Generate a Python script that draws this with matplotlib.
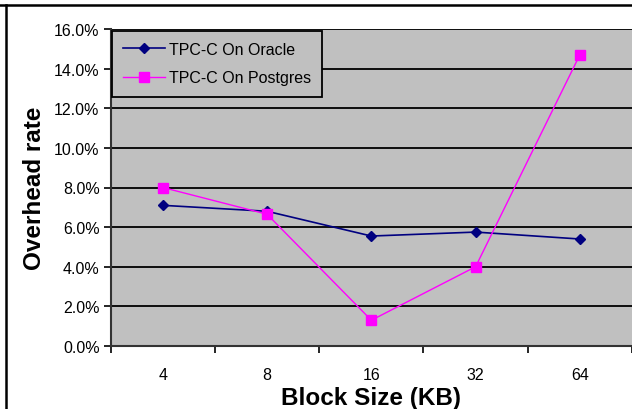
import matplotlib
matplotlib.use("Agg")
import matplotlib.pyplot as plt
from matplotlib.lines import Line2D
from matplotlib.ticker import FixedLocator, PercentFormatter

# data
block_sizes = ["4", "8", "16", "32", "64"]
oracle = [7.1, 6.8, 5.55, 5.75, 5.4]
postgres = [8.0, 6.65, 1.3, 4.0, 14.7]
y_ticks = [0, 2, 4, 6, 8, 10, 12, 14, 16]

plt.rcParams['font.family'] = ['Liberation Sans', 'DejaVu Sans']

fig = plt.figure(figsize=(6.32, 4.10), dpi=100)
ax = fig.add_axes([110.7 / 632, 63 / 410, 1 - 110.7 / 632, 317 / 410])
ax.set_facecolor('#c0c0c0')

x = list(range(len(block_sizes)))
ax.plot(x, oracle, color='#000080', marker='D', markersize=5.5, linewidth=1.2,
        label='TPC-C On Oracle', zorder=3)
ax.plot(x, postgres, color='#ff00ff', marker='s', markersize=6.5, linewidth=1.0,
        label='TPC-C On Postgres', zorder=3)

ax.set_xlim(-0.5, len(block_sizes) - 0.5)
ax.set_ylim(0, 16)
ax.set_yticks(y_ticks)
ax.yaxis.set_major_formatter(PercentFormatter(decimals=1))
ax.yaxis.grid(True, color='black', linewidth=1.3)
ax.set_axisbelow(True)

ax.set_xticks(x)
ax.set_xticklabels(block_sizes)
ax.xaxis.set_minor_locator(FixedLocator([i - 0.5 for i in range(len(block_sizes) + 1)]))
ax.tick_params(axis='x', which='major', length=0, pad=15, labelsize=11.5)
ax.tick_params(axis='x', which='minor', length=5, width=1.2, color='black')
ax.tick_params(axis='y', length=5, width=1.2, color='black', pad=3, labelsize=11.5)

for side in ['top', 'right']:
    ax.spines[side].set_visible(False)
for side in ['left', 'bottom']:
    ax.spines[side].set_color('#333333')
    ax.spines[side].set_linewidth(1.5)

ax.set_xlabel('Block Size (KB)', fontsize=17.5, fontweight='bold', labelpad=3)
ax.set_ylabel('Overhead rate', fontsize=17.5, fontweight='bold', labelpad=6)

leg = ax.legend(loc='upper left', bbox_to_anchor=(0.0, 1.0), frameon=True,
                fancybox=False, fontsize=11.5, borderaxespad=0.1,
                handlelength=2.6, borderpad=0.7, labelspacing=0.85,
                handletextpad=0.25)
leg.get_frame().set_facecolor('#c0c0c0')
leg.get_frame().set_edgecolor('black')
leg.get_frame().set_linewidth(1.3)
leg.get_frame().set_alpha(1)

# outer frame (cropped: only top and left edges show)
fig.add_artist(Line2D([0, 1], [1 - 6 / 410] * 2, color='black', linewidth=1.8,
                      transform=fig.transFigure))
fig.add_artist(Line2D([6 / 632] * 2, [0, 1 - 6 / 410], color='black', linewidth=1.8,
                      transform=fig.transFigure))

fig.savefig('out.png', dpi=100, facecolor='white')
